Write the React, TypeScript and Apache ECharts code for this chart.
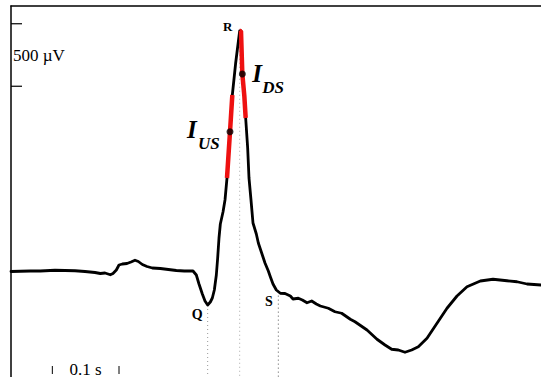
import React, { useEffect, useRef } from "react";
import * as echarts from "echarts";

// One averaged ECG beat: time in ms, amplitude in µV (0 = isoelectric line)
const timeMs = [
  0, 14, 29, 44, 66, 81, 96, 111, 126, 134, 141, 149, 153, 158, 162, 167, 174, 180, 186, 191,
  197, 204, 212, 224, 236, 248, 260, 269, 273, 278, 282, 287, 291, 295, 299, 302, 305, 308, 310,
  312, 314, 318, 321, 324, 328, 332, 337, 343, 345, 347, 350, 352, 355, 357, 360, 363, 368, 371,
  377, 381, 386, 389, 393, 398, 404, 411, 419, 423, 431, 437, 444, 451, 458, 464, 476, 486, 496,
  509, 516, 534, 549, 561, 571, 581, 591, 601, 611, 624, 639, 654, 669, 684, 704, 723, 744, 759,
  774, 795,
];
const microvolts = [
  -12, -10, -8, -8, -2, -4, -6, -12, -20, -28, -24, -38, -28, 0, 40, 48, 52, 64, 78, 68,
  44, 28, 16, 12, 4, -4, -8, -8, -8, -40, -112, -192, -248, -280, -256, -224, -160, -40, 96,
  256, 368, 464, 560, 736, 1064, 1400, 1656, 1912, 1912, 1568, 1392, 1216, 976, 736, 560, 376, 288, 216,
  120, 56, -8, -54, -112, -160, -186, -188, -208, -232, -226, -240, -262, -248, -272, -288, -306, -334, -346,
  -394, -414, -480, -554, -600, -634, -640, -658, -640, -614, -546, -426, -306, -208, -134, -88, -74, -86, -94,
  -112, -120,
];

// Fiducial points of the QRS complex
const fiducialNames = ["Q", "R", "S"];
const fiducialTimes = [295, 343, 401];

// Steepest up- and downstroke segments of the R wave (ms)
const upstrokeRange = [324, 332];
const downstrokeRange = [343, 352];
const slopeNames = ["US", "DS"];
const slopeTimes = [328.5, 347];

// Calibration bars
const ampBar = [1470, 1970]; // 500 µV
const ampBarLabel = "500 µV";
const timeBar = [62, 162]; // 0.1 s
const timeBarLabel = "0.1 s";

const X_MAX = 795;
const Y_MIN = -856;
const Y_MAX = 2112;

const waveform: [number, number][] = timeMs.map((t, i) => [t, microvolts[i]]);

function valueAt(t: number): number {
  for (let i = 1; i < waveform.length; i++) {
    const [t0, v0] = waveform[i - 1];
    const [t1, v1] = waveform[i];
    if (t >= t0 && t <= t1) {
      return t1 === t0 ? v0 : v0 + ((v1 - v0) * (t - t0)) / (t1 - t0);
    }
  }
  return 0;
}

const SERIF = '"Liberation Serif", "Times New Roman", serif';

export default function App() {
  const ref = useRef<HTMLDivElement>(null);

  useEffect(() => {
    if (!ref.current) return;
    const chart = echarts.init(ref.current, undefined, { renderer: "svg" });

    const segment = (range: number[]) =>
      waveform.filter(([t]) => t >= range[0] && t <= range[1]);

    const fiducialColors = ["#999", "#aaa", "#555"];
    const dottedSeries = fiducialTimes.map((t, i) => ({
      type: "line",
      data: [
        [t, valueAt(t) - (i === 1 ? 30 : 0)],
        [t, Y_MIN],
      ],
      showSymbol: false,
      silent: true,
      z: 1,
      lineStyle: { color: fiducialColors[i], width: 1, type: [1, 3] },
    }));

    chart.setOption({
      animation: false,
      grid: { left: 11, top: 6, right: 0, bottom: 0, containLabel: false },
      xAxis: {
        type: "value",
        min: 0,
        max: X_MAX,
        position: "top",
        axisLine: { show: true, onZero: false, lineStyle: { color: "#000", width: 1.5 } },
        axisTick: { show: false },
        axisLabel: { show: false },
        splitLine: { show: false },
      },
      yAxis: {
        type: "value",
        min: Y_MIN,
        max: Y_MAX,
        axisLine: { show: true, onZero: false, lineStyle: { color: "#000", width: 1.5 } },
        axisTick: { show: false },
        axisLabel: { show: false },
        splitLine: { show: false },
      },
      series: [
        ...dottedSeries,
        {
          type: "line",
          data: waveform,
          showSymbol: false,
          silent: true,
          z: 2,
          lineStyle: { color: "#000", width: 2.8, join: "round", cap: "round" },
        },
        {
          type: "line",
          data: segment(upstrokeRange),
          showSymbol: false,
          silent: true,
          z: 3,
          lineStyle: { color: "#ee1111", width: 4.5, cap: "butt" },
        },
        {
          type: "line",
          data: segment(downstrokeRange),
          showSymbol: false,
          silent: true,
          z: 3,
          lineStyle: { color: "#ee1111", width: 4.5, cap: "butt" },
        },
        {
          type: "scatter",
          data: slopeTimes.map((t) => [t, valueAt(t)]),
          symbolSize: 7,
          silent: true,
          z: 4,
          itemStyle: { color: "#000" },
        },
      ],
    });

    const px = (t: number, v: number) =>
      chart.convertToPixel({ gridIndex: 0 }, [t, v]) as number[];

    const graphic: any[] = [];

    // Fiducial letters
    const letterOffsets = [
      [-10.5, 9, 14],
      [-12, -4.5, 13],
      [-9.5, 9.5, 14],
    ];
    fiducialTimes.forEach((t, i) => {
      const [x, y] = px(t, valueAt(t));
      const [dx, dy, fs] = letterOffsets[i];
      graphic.push({
        type: "text",
        x: x + dx,
        y: y + dy,
        silent: true,
        style: {
          text: fiducialNames[i],
          font: `bold ${fs}px ${SERIF}`,
          fill: "#000",
          align: "center",
          verticalAlign: "middle",
        },
      });
    });

    // Slope labels: italic I with subscript
    const slopeOffsets = [
      [-43, -2, -32, 12],
      [10, -1, 20, 13],
    ];
    slopeTimes.forEach((t, i) => {
      const [x, y] = px(t, valueAt(t));
      const [ix, iy, sx, sy] = slopeOffsets[i];
      graphic.push({
        type: "text",
        x: x + ix,
        y: y + iy,
        silent: true,
        style: {
          text: "I",
          font: `italic bold 25px ${SERIF}`,
          fill: "#000",
          align: "left",
          verticalAlign: "middle",
        },
      });
      graphic.push({
        type: "text",
        x: x + sx,
        y: y + sy,
        silent: true,
        style: {
          text: slopeNames[i],
          font: `italic bold 17px ${SERIF}`,
          fill: "#000",
          align: "left",
          verticalAlign: "middle",
        },
      });
    });

    // Amplitude calibration bar
    const [, yTop] = px(0, ampBar[1]);
    const [, yBot] = px(0, ampBar[0]);
    [yTop, yBot].forEach((y) =>
      graphic.push({
        type: "line",
        silent: true,
        shape: { x1: 11, y1: y, x2: 22, y2: y },
        style: { stroke: "#000", lineWidth: 1.2 },
      })
    );
    graphic.push({
      type: "text",
      x: 13,
      y: (yTop + yBot) / 2,
      silent: true,
      style: {
        text: ampBarLabel,
        font: `17px ${SERIF}`,
        fill: "#000",
        align: "left",
        verticalAlign: "middle",
      },
    });

    // Time calibration bar
    const [xL] = px(timeBar[0], 0);
    const [xR] = px(timeBar[1], 0);
    [xL, xR].forEach((x) =>
      graphic.push({
        type: "line",
        silent: true,
        shape: { x1: x, y1: 366, x2: x, y2: 374 },
        style: { stroke: "#000", lineWidth: 1 },
      })
    );
    graphic.push({
      type: "text",
      x: (xL + xR) / 2,
      y: 369,
      silent: true,
      style: {
        text: timeBarLabel,
        font: `17px ${SERIF}`,
        fill: "#000",
        align: "center",
        verticalAlign: "middle",
      },
    });

    chart.setOption({ graphic });

    return () => chart.dispose();
  }, []);

  return (
    <div
      ref={ref}
      style={{ position: "absolute", left: 0, top: 0, width: 541, height: 377, background: "#fff" }}
    />
  );
}
